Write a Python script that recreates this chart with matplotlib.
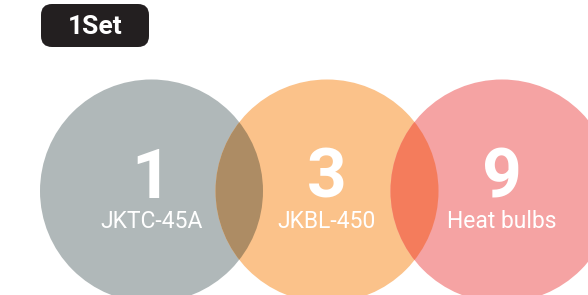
import matplotlib
matplotlib.use('Agg')
import matplotlib.pyplot as plt
from matplotlib.patches import Circle, FancyBboxPatch

# 数据
counts = [1, 3, 9]
names = ['JKTC-45A', 'JKBL-450', 'Heat bulbs']
badge = '1Set'
colors = ['#b0b8b9', '#fbc28a', '#f5a3a3']
overlap_colors = ['#ad8c64', '#f47c5c']

plt.rcParams['font.family'] = ['Roboto', 'DejaVu Sans']

fig = plt.figure(figsize=(5.88, 2.95), dpi=100)
ax = fig.add_axes([0, 0, 1, 1])
ax.set_xlim(0, 588)
ax.set_ylim(295, 0)
ax.set_aspect('equal')
ax.axis('off')

r = 111.5
cy = 191
cx = [151.5, 327, 502]

circles = []
for i, c in enumerate(colors):
    p = Circle((cx[i], cy), r, facecolor=c, edgecolor='none', zorder=1)
    ax.add_patch(p)
    circles.append(p)

# 重叠区域
for i, c in enumerate(overlap_colors):
    p = Circle((cx[i + 1], cy), r, facecolor=c, edgecolor='none', zorder=2)
    ax.add_patch(p)
    p.set_clip_path(circles[i])

for i in range(3):
    ax.text(cx[i], 179, str(counts[i]), color='white', fontsize=50, fontweight='bold',
            ha='center', va='center', zorder=3)
    ax.text(cx[i], 221.5, names[i], color='white', fontsize=16.5, fontweight='normal',
            ha='center', va='center', zorder=3)

# 标签
box = FancyBboxPatch((41, 4), 108, 43, boxstyle='round,pad=0,rounding_size=11',
                     facecolor='#231f20', edgecolor='none', zorder=3)
ax.add_patch(box)
ax.text(95, 26.5, badge, color='white', fontsize=19, fontweight='bold',
        ha='center', va='center', zorder=4)

fig.savefig('out.png', dpi=100)
